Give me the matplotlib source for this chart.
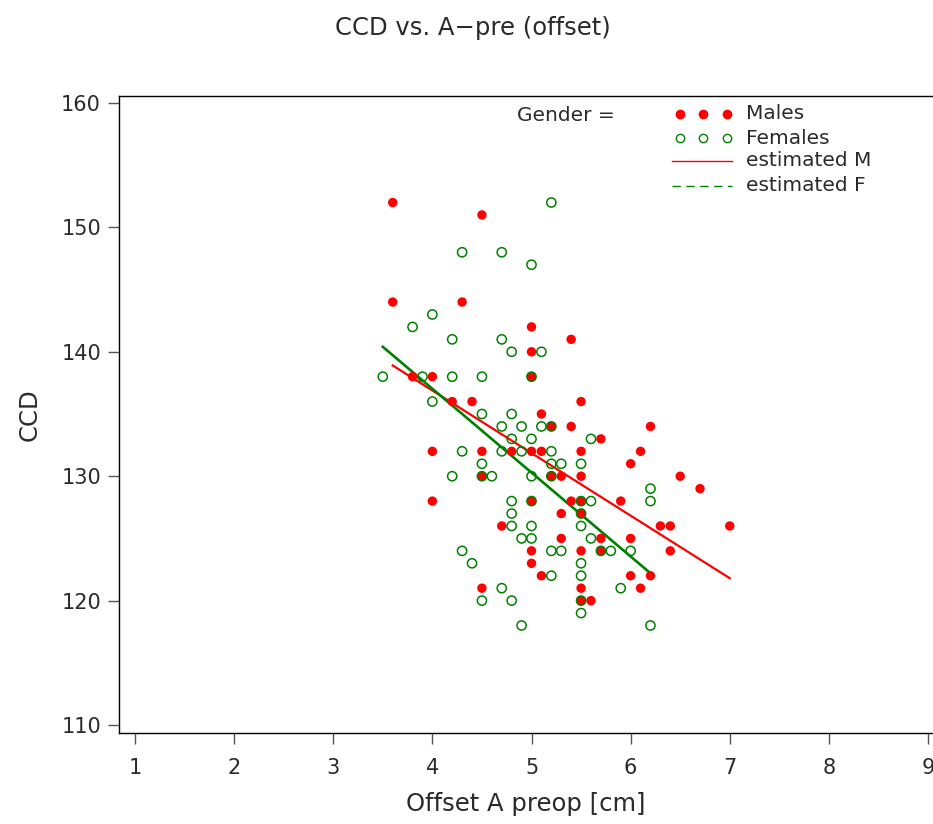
import numpy as np
import matplotlib
matplotlib.use("Agg")
import matplotlib.pyplot as plt

# Offset A preop [cm] vs CCD
male_x = [3.6, 4.5, 3.6, 4.3, 5.0, 5.4, 5.0, 3.8, 4.0, 5.0, 4.2, 4.4, 5.5, 5.1,
          5.2, 5.4, 6.2, 5.7, 4.0, 4.5, 4.8, 5.0, 5.1, 5.5, 6.1, 6.0, 4.5, 5.2,
          5.3, 5.5, 6.5, 6.7, 4.0, 5.0, 5.4, 5.5, 5.9, 5.3, 5.5, 4.7, 6.3, 6.4,
          7.0, 5.3, 5.7, 6.0, 5.0, 5.5, 5.7, 6.4, 5.0, 5.1, 6.0, 6.2, 4.5, 5.5,
          6.1, 5.5, 5.6]
male_y = [152, 151, 144, 144, 142, 141, 140, 138, 138, 138, 136, 136, 136, 135,
          134, 134, 134, 133, 132, 132, 132, 132, 132, 132, 132, 131, 130, 130,
          130, 130, 130, 129, 128, 128, 128, 128, 128, 127, 127, 126, 126, 126,
          126, 125, 125, 125, 124, 124, 124, 124, 123, 122, 122, 122, 121, 121,
          121, 120, 120]

female_x = [5.2, 4.3, 4.7, 5.0, 4.0, 3.8, 4.2, 4.7, 4.8, 5.1, 3.5, 3.9, 4.2, 4.5,
            5.0, 4.0, 4.5, 4.8, 4.7, 4.9, 5.1, 5.2, 4.8, 5.0, 5.6, 4.3, 4.7, 4.9,
            5.2, 4.5, 5.2, 5.3, 5.5, 4.2, 4.5, 4.6, 5.0, 5.2, 6.2, 4.8, 5.0, 5.5,
            5.6, 6.2, 4.8, 5.5, 4.8, 5.0, 5.5, 4.9, 5.0, 5.6, 4.3, 5.2, 5.3, 5.7,
            5.8, 6.0, 4.4, 5.5, 5.2, 5.5, 4.7, 5.9, 4.5, 4.8, 5.5, 5.5, 4.9, 6.2]
female_y = [152, 148, 148, 147, 143, 142, 141, 141, 140, 140, 138, 138, 138, 138,
            138, 136, 135, 135, 134, 134, 134, 134, 133, 133, 133, 132, 132, 132,
            132, 131, 131, 131, 131, 130, 130, 130, 130, 130, 129, 128, 128, 128,
            128, 128, 127, 127, 126, 126, 126, 125, 125, 125, 124, 124, 124, 124,
            124, 124, 123, 123, 122, 122, 121, 121, 120, 120, 120, 119, 118, 118]

# estimated regression lines (end points)
fit_m_x = [3.6, 7.0]
fit_m_y = [138.9, 121.8]
fit_f_x = [3.5, 6.2]
fit_f_y = [140.4, 122.2]

x_ticks = [1, 2, 3, 4, 5, 6, 7, 8, 9]
y_ticks = [110, 120, 130, 140, 150, 160]

RED = "#ff0000"
GREEN = "#008000"
TXT = "#2a2a2a"

fig = plt.figure(figsize=(9.33, 8.24), dpi=100)
ax = fig.add_axes([119 / 933, 91 / 824, 814 / 933, 637 / 824])

ax.scatter(male_x, male_y, s=46, color=RED, edgecolors="none", zorder=3)
ax.scatter(female_x, female_y, s=44, facecolors="none", edgecolors=GREEN,
           linewidths=1.1, zorder=4)
ax.plot(fit_m_x, fit_m_y, color=RED, lw=1.6, zorder=2)
ax.plot(fit_f_x, fit_f_y, color=GREEN, lw=1.9, zorder=2)

ax.set_xlim(0.839, 9.05)
ax.set_ylim(109.36, 160.56)
ax.set_xticks(x_ticks)
ax.set_yticks(y_ticks)
ax.tick_params(axis="x", direction="out", length=8, width=1, pad=10,
               labelsize=15, labelcolor=TXT, color="#555555")
ax.tick_params(axis="y", direction="out", length=8, width=1, pad=5,
               labelsize=15, labelcolor=TXT, color="#555555")
ax.spines["right"].set_visible(False)
for s in ["left", "bottom", "top"]:
    ax.spines[s].set_linewidth(1.0)

ax.set_xlabel("Offset A preop [cm]", fontsize=17.5, color=TXT, labelpad=10)
ax.set_ylabel("CCD", fontsize=17.5, color=TXT, labelpad=14)
fig.text(473 / 933, 1 - 28 / 824, "CCD vs. A\u2212pre (offset)", fontsize=17.5,
         color=TXT, ha="center", va="center")

# legend drawn by hand
tr = ax.transAxes
ax.text(0.489, 0.970, "Gender =", transform=tr, fontsize=14.5, color=TXT,
        va="center", ha="left")
ax.plot([0.689, 0.718, 0.747], [0.972, 0.972, 0.972], transform=tr, ls="none",
        marker="o", ms=7, color=RED, mec="none", clip_on=False)
ax.plot([0.689, 0.718, 0.747], [0.934, 0.934, 0.934], transform=tr, ls="none",
        marker="o", ms=6, mfc="none", mec=GREEN, mew=1.0, clip_on=False)
ax.plot([0.679, 0.753], [0.898, 0.898], transform=tr, color=RED, lw=1.0)
ax.plot([0.679, 0.753], [0.859, 0.859], transform=tr, color=GREEN, lw=1.0,
        ls=(0, (6, 4)))
for yy, lab in zip([0.972, 0.934, 0.898, 0.859],
                   ["Males", "Females", "estimated M", "estimated F"]):
    ax.text(0.770, yy, lab, transform=tr, fontsize=14.5, color=TXT,
            va="center", ha="left")

fig.savefig("out.png", dpi=100)
